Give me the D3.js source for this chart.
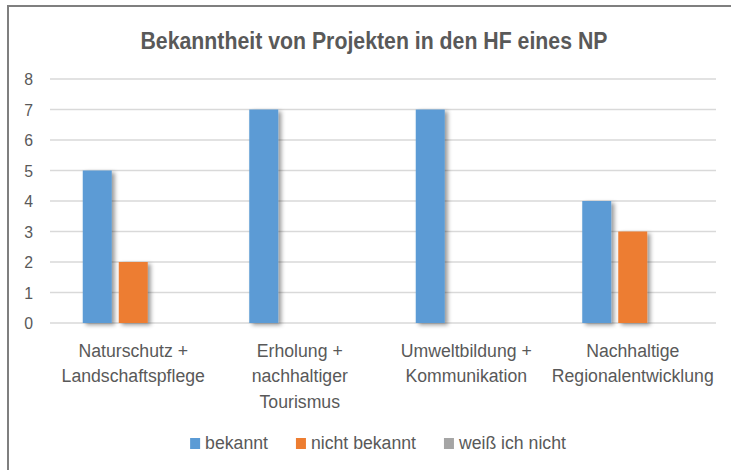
<html lang="de">
<head>
    <meta charset="UTF-8"/>
    <title>Bekanntheit von Projekten in den HF eines NP</title>
    <script src="https://d3js.org/d3.v7.min.js"></script>
    <style>
        body { margin: 0; background: #ffffff; overflow: hidden; }
        svg { display: block; }
        text { font-family: "Liberation Sans", Arial, sans-serif; fill: #595959; }
    </style>
</head>
<body>
    <script>
        // data
        var categories = ["Naturschutz + Landschaftspflege", "Erholung + nachhaltiger Tourismus",
                          "Umweltbildung + Kommunikation", "Nachhaltige Regionalentwicklung"];
        var categoryLines = [["Naturschutz +", "Landschaftspflege"],
                             ["Erholung +", "nachhaltiger", "Tourismus"],
                             ["Umweltbildung +", "Kommunikation"],
                             ["Nachhaltige", "Regionalentwicklung"]];
        var seriesNames = ["bekannt", "nicht bekannt", "weiß ich nicht"];
        var bekannt = [5, 7, 7, 4];
        var nichtBekannt = [2, 0, 0, 3];
        var weissNicht = [0, 0, 0, 0];
        var yTicks = [0, 1, 2, 3, 4, 5, 6, 7, 8];
        var colors = ["#5b9bd5", "#ed7d31", "#a5a5a5"];

        var seriesValues = [bekannt, nichtBekannt, weissNicht];

        var w = 731;
        var h = 470;
        // plot area (note: "top" is taken by window.top, so use other names)
        var plotLeft = 50, plotRight = 716, plotTop = 79, plotBottom = 323;
        var squeeze = 0.93; // text in the picture is a bit narrower

        var svg = d3.select("body")
                    .append("svg")
                    .attr("width", w)
                    .attr("height", h);

        // shadow behind the bars
        var filter = svg.append("defs").append("filter")
            .attr("id", "shadow")
            .attr("x", "-20%").attr("y", "-10%")
            .attr("width", "160%").attr("height", "130%");
        filter.append("feDropShadow")
            .attr("dx", 3).attr("dy", 2)
            .attr("stdDeviation", 2)
            .attr("flood-color", "#000")
            .attr("flood-opacity", 0.4);

        // outer frame
        svg.append("rect")
            .attr("x", 8).attr("y", 6)
            .attr("width", w + 10).attr("height", h + 10)
            .attr("fill", "none")
            .attr("stroke", "#7f7f7f")
            .attr("stroke-width", 2);

        var x0 = d3.scaleBand()
                    .domain(categories)
                    .range([plotLeft, plotRight])
                    .padding(0);

        var x1 = d3.scaleBand()
                    .domain(seriesNames)
                    .range([0, x0.bandwidth()])
                    .paddingInner(7 / 36)
                    .paddingOuter(0.91);

        var yScale = d3.scaleLinear()
                        .domain([0, 8])
                        .range([plotBottom, plotTop]);

        // gridlines
        svg.append("g")
            .selectAll("line")
            .data(yTicks)
            .enter()
            .append("line")
            .attr("x1", plotLeft)
            .attr("x2", plotRight)
            .attr("y1", function(d) { return yScale(d); })
            .attr("y2", function(d) { return yScale(d); })
            .attr("stroke", "#d9d9d9")
            .attr("stroke-width", 1.5);

        // y labels
        svg.append("g")
            .selectAll("text")
            .data(yTicks)
            .enter()
            .append("text")
            .attr("text-anchor", "end")
            .attr("transform", function(d) {
                return "translate(33," + (yScale(d) + 6) + ") scale(" + squeeze + ",1)";
            })
            .style("font-size", "17px")
            .text(function(d) { return d; });

        // bars
        var groups = svg.selectAll("g.group")
            .data(categories)
            .enter()
            .append("g")
            .attr("class", "group")
            .attr("transform", function(d) { return "translate(" + x0(d) + ",0)"; });

        groups.selectAll("rect")
            .data(function(d, i) {
                return seriesNames.map(function(s, j) {
                    return { name: s, value: seriesValues[j][i], color: colors[j] };
                }).filter(function(b) { return b.value > 0; });
            })
            .enter()
            .append("rect")
            .attr("x", function(d) { return x1(d.name); })
            .attr("y", function(d) { return yScale(d.value); })
            .attr("width", x1.bandwidth())
            .attr("height", function(d) { return plotBottom - yScale(d.value); })
            .attr("fill", function(d) { return d.color; })
            .attr("filter", "url(#shadow)");

        // category labels
        groups.each(function(d, i) {
            var g = d3.select(this);
            categoryLines[i].forEach(function(line, k) {
                g.append("text")
                    .attr("text-anchor", "middle")
                    .attr("transform", "translate(" + (x0.bandwidth() / 2) + "," + (356.5 + k * 25.5) + ") scale(" + squeeze + ",1)")
                    .style("font-size", "19px")
                    .text(line);
            });
        });

        // title
        svg.append("text")
            .attr("x", 374)
            .attr("y", 48.5)
            .attr("text-anchor", "middle")
            .attr("textLength", 467)
            .attr("lengthAdjust", "spacingAndGlyphs")
            .style("font-size", "24px")
            .style("font-weight", "bold")
            .text("Bekanntheit von Projekten in den HF eines NP");

        // legend
        var legend = svg.append("g");
        var lx = 0;
        seriesNames.forEach(function(s, j) {
            legend.append("rect")
                .attr("x", lx)
                .attr("y", 438)
                .attr("width", 10)
                .attr("height", 11)
                .attr("fill", colors[j]);
            var t = legend.append("text")
                .attr("transform", "translate(" + (lx + 15) + ",449) scale(" + squeeze + ",1)")
                .style("font-size", "19px")
                .text(s);
            lx += 15 + t.node().getComputedTextLength() * squeeze + 28;
        });
        var legendWidth = lx - 28;
        legend.attr("transform", "translate(" + (378 - legendWidth / 2) + ",0)");
    </script>
</body>
</html>
